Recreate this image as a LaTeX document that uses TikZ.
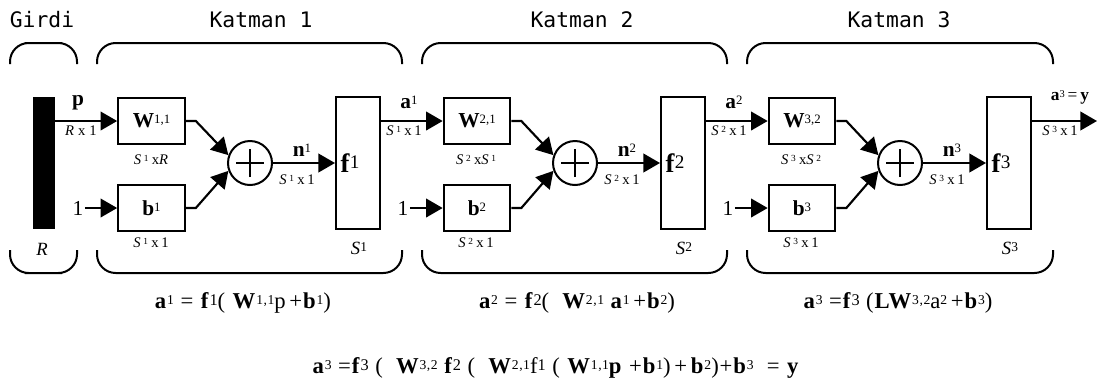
\documentclass[tikz,border=0pt]{standalone}
\usepackage{fontspec}
\setmainfont{Liberation Serif}
\setmonofont{DejaVu Sans Mono}
\usetikzlibrary{arrows.meta,positioning}
\makeatletter
\newcommand{\ix}[1]{\raisebox{0.18em}{\fontsize{\fpeval{0.6*\f@size}}{\fpeval{0.7*\f@size}}\selectfont\mdseries #1}}
\newcommand{\fx}[1]{\raisebox{0.15em}{\fontsize{\fpeval{0.72*\f@size}}{\fpeval{0.8*\f@size}}\selectfont\mdseries #1}}
\makeatother
\newcommand{\dx}[1]{\hspace{2pt}\raisebox{2.8pt}{\fontsize{7}{8}\selectfont #1}\hspace{2.5pt}}
\tikzset{
  base/.style={font=\rmfamily\fontsize{16}{18}\selectfont, inner sep=1pt},
  layertitle/.style={font=\ttfamily\fontsize{16}{18}\selectfont},
  lbl/.style={base},
  dim/.style={base, font=\rmfamily\fontsize{11}{13}\selectfont},
  slbl/.style={base, font=\rmfamily\fontsize{14}{16}\selectfont},
  eq/.style={base, font=\rmfamily\fontsize{17}{19}\selectfont\addfontfeatures{LetterSpace=4}},
  wbox/.style={base, draw, line width=1.5pt, minimum width=50pt, minimum height=34pt, inner sep=0pt},
  fbox/.style={base, draw, line width=1.5pt, text width=26pt, minimum height=99pt, inner sep=3.5pt, align=left, font=\rmfamily\fontsize{20}{22}\selectfont},
  inbar/.style={fill=black, minimum width=16.5pt, minimum height=99pt, inner sep=0pt},
  sumnode/.style={draw, circle, line width=1.5pt, minimum size=33pt, inner sep=0pt,
    path picture={\draw[line width=1.8pt] ([xshift=-10.5pt]path picture bounding box.center) -- ([xshift=10.5pt]path picture bounding box.center);
      \draw[line width=1.8pt] ([yshift=-10.5pt]path picture bounding box.center) -- ([yshift=10.5pt]path picture bounding box.center);}},
  arrow/.style={-{Triangle[length=12.5pt,width=14pt]}, line width=1.6pt},
  bracket/.style={line width=1.5pt, rounded corners=14pt},
}

\begin{document}
\begin{tikzpicture}[x=0.75pt,y=-0.75pt]
  \useasboundingbox (0,0) rectangle (1102,387);

  % titles and brackets
  \node[layertitle] (girdi) at (42,20) {Girdi};
  \node[layertitle] (kat1) at (261,20) {Katman 1};
  \node[layertitle] (kat2) at (582,20) {Katman 2};
  \node[layertitle] (kat3) at (899,20) {Katman 3};
  \draw[bracket] (10,64) |- (43.5,43) -| (77,64);
  \draw[bracket] (10,250) |- (43.5,273) -| (77,250);
  \draw[bracket] (97,64) |- (250,43) -| (402,64);
  \draw[bracket] (97,250) |- (250,273) -| (402,250);
  \draw[bracket] (422,64) |- (575,43) -| (727,64);
  \draw[bracket] (422,250) |- (575,273) -| (727,250);
  \draw[bracket] (747,64) |- (900,43) -| (1053,64);
  \draw[bracket] (747,250) |- (900,273) -| (1053,250);

  % input
  \node[inbar] (inp) at (44,163) {};
  \node[slbl] (R) at (42,249) {\textit{R}};
  \node[lbl] (p) at (78,103) {\textbf{p}};
  \node[dim] (pdim) at (81,131) {\textit{R}\hspace{3pt}x\hspace{3pt}1};

  % layer 1
  \node[wbox] (W1) at (151.5,121) {\textbf{W}\ix{1,1}};
  \node[dim] (W1dim) at (151,160) {\textit{S}\dx{1}x\textit{R}};
  \node[wbox] (b1) at (151.5,208) {\textbf{b}\ix{1}};
  \node[dim] (b1dim) at (151,243) {\textit{S}\dx{1}x\hspace{2pt}1};
  \node[lbl] (one1) at (78,208) {1};
  \node[sumnode] (sum1) at (250,163) {};
  \node[lbl] (n1) at (302,150) {\textbf{n}\ix{1}};
  \node[dim] (n1dim) at (297,180) {\textit{S}\dx{1}x\hspace{2pt}1};
  \node[fbox] (f1) at (358,163) {\textbf{f}\fx{1}};
  \node[slbl] (S1) at (359,248) {\textit{S}\fx{1}};
  \node[lbl] (a1) at (409,102) {\textbf{a}\ix{1}};
  \node[dim] (a1dim) at (404,131) {\textit{S}\dx{1}x\hspace{2pt}1};
  \draw[arrow] (inp.east |- W1.west) -- (W1.west);
  \draw[arrow] (one1) -- (b1);
  \draw[arrow] (W1.east) -- ++(10,0) -- (sum1.160);
  \draw[arrow] (b1.east) -- ++(10,0) -- (sum1.200);
  \draw[arrow] (sum1) -- (f1);

  % layer 2
  \node[wbox] (W2) at (477,121) {\textbf{W}\ix{2,1}};
  \node[dim] (W2dim) at (476,160) {\textit{S}\dx{2}x\textit{S}\dx{1}};
  \node[wbox] (b2) at (477,208) {\textbf{b}\ix{2}};
  \node[dim] (b2dim) at (476,243) {\textit{S}\dx{2}x\hspace{2pt}1};
  \node[lbl] (one2) at (403,208) {1};
  \node[sumnode] (sum2) at (575,163) {};
  \node[lbl] (n2) at (627,150) {\textbf{n}\ix{2}};
  \node[dim] (n2dim) at (622,180) {\textit{S}\dx{2}x\hspace{2pt}1};
  \node[fbox] (f2) at (683,163) {\textbf{f}\fx{2}};
  \node[slbl] (S2) at (684,248) {\textit{S}\fx{2}};
  \node[lbl] (a2) at (734,102) {\textbf{a}\ix{2}};
  \node[dim] (a2dim) at (729,131) {\textit{S}\dx{2}x\hspace{2pt}1};
  \draw[arrow] (f1.east |- W2.west) -- (W2.west);
  \draw[arrow] (one2) -- (b2);
  \draw[arrow] (W2.east) -- ++(10,0) -- (sum2.160);
  \draw[arrow] (b2.east) -- ++(10,0) -- (sum2.200);
  \draw[arrow] (sum2) -- (f2);

  % layer 3
  \node[wbox] (W3) at (802,121) {\textbf{W}\ix{3,2}};
  \node[dim] (W3dim) at (801,160) {\textit{S}\dx{3}x\textit{S}\dx{2}};
  \node[wbox] (b3) at (802,208) {\textbf{b}\ix{3}};
  \node[dim] (b3dim) at (801,243) {\textit{S}\dx{3}x\hspace{2pt}1};
  \node[lbl] (one3) at (728,208) {1};
  \node[sumnode] (sum3) at (900,163) {};
  \node[lbl] (n3) at (952,150) {\textbf{n}\ix{3}};
  \node[dim] (n3dim) at (947,180) {\textit{S}\dx{3}x\hspace{2pt}1};
  \node[fbox] (f3) at (1009,163) {\textbf{f}\fx{3}};
  \node[slbl] (S3) at (1010,248) {\textit{S}\fx{3}};
  \node[lbl,font=\rmfamily\fontsize{13}{15}\selectfont] (a3) at (1070,97) {\textbf{a}\ix{3}\,=\,\textbf{y}};
  \node[dim] (a3dim) at (1060,131) {\textit{S}\dx{3}x\hspace{2pt}1};
  \coordinate (out) at (1097,121);
  \draw[arrow] (f2.east |- W3.west) -- (W3.west);
  \draw[arrow] (one3) -- (b3);
  \draw[arrow] (W3.east) -- ++(10,0) -- (sum3.160);
  \draw[arrow] (b3.east) -- ++(10,0) -- (sum3.200);
  \draw[arrow] (sum3) -- (f3);
  \draw[arrow] (f3.east |- out) -- (out);

  % equations
  \node[eq] (eq1) at (243,303) {\textbf{a}\ix{1} = \textbf{f}\fx{1}( \textbf{W}\ix{1,1}p\,+\textbf{b}\ix{1})};
  \node[eq] (eq2) at (577,303) {\textbf{a}\ix{2} = \textbf{f}\fx{2}(\ \ \textbf{W}\ix{2,1} \textbf{a}\ix{1}\,+\textbf{b}\ix{2})};
  \node[eq] (eq3) at (898,303) {\textbf{a}\ix{3} =\textbf{f}\fx{3} (\textbf{LW}\ix{3,2}a\ix{2}\,+\textbf{b}\ix{3})};
  \node[eq] (eq4) at (556,368) {\textbf{a}\ix{3} =\textbf{f}\fx{3} (\ \ \textbf{W}\ix{3,2} \textbf{f}\fx{2} (\ \ \textbf{W}\ix{2,1}f\fx{1} ( \textbf{W}\ix{1,1}\textbf{p} +\textbf{b}\ix{1})\,+\,\textbf{b}\ix{2})+\textbf{b}\ix{3}\ \ = \textbf{y}};
\end{tikzpicture}
\end{document}
